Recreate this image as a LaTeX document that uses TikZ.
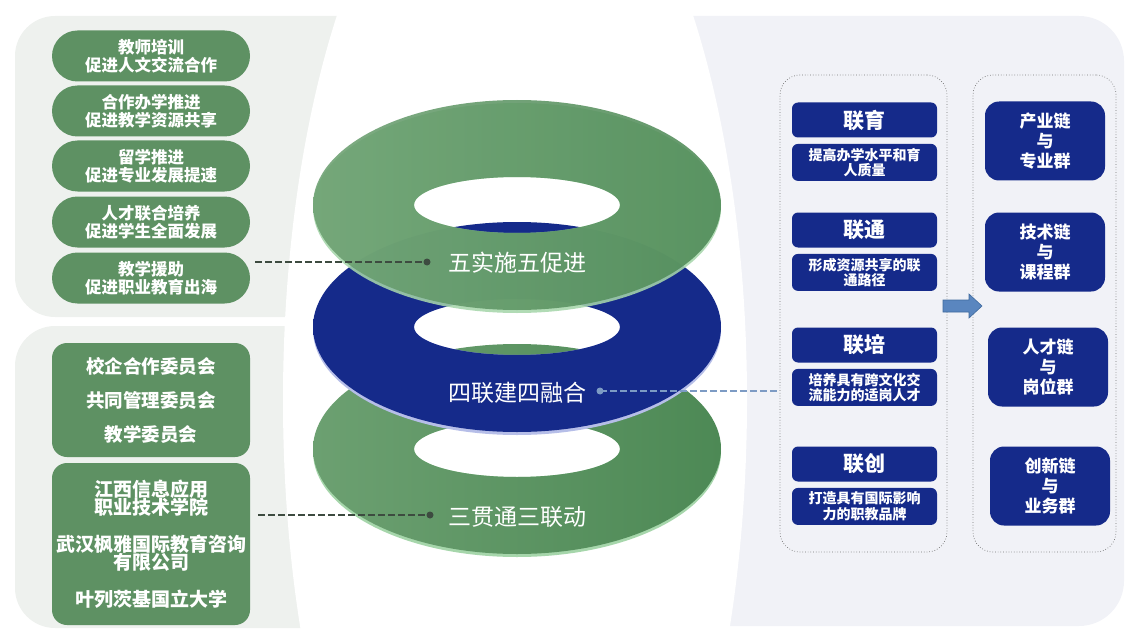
\documentclass[tikz,border=0pt]{standalone}
\usepackage{fontspec}
\setmainfont{Noto Sans CJK SC}
\usetikzlibrary{shapes.misc,positioning,calc}

\definecolor{leafgray}{HTML}{EEF1EE}
\definecolor{mistblue}{HTML}{F1F2F7}
\definecolor{pillgreen}{HTML}{5E9163}
\definecolor{ringlight}{HTML}{6CA071}
\definecolor{ringdark}{HTML}{4D8955}
\definecolor{greenlip}{HTML}{A6D6AB}
\definecolor{navy}{HTML}{152A8A}
\definecolor{bluelip}{HTML}{B6BEE8}
\definecolor{dashdark}{HTML}{3D4B40}
\definecolor{dashblue}{HTML}{7D9BC4}
\definecolor{arrowblue}{HTML}{5A86BF}
\definecolor{arrowedge}{HTML}{3F6A9E}

\newcommand\tightlines{\lineskiplimit-20pt\relax}

\tikzset{
  pill/.style={rounded rectangle, fill=pillgreen, text=white, minimum width=198pt,
    minimum height=51pt, inner sep=0pt, align=center,
    font=\bfseries\fontsize{16.5pt}{18.5pt}\selectfont\tightlines},
  gbox/.style={fill=pillgreen, text=white, rounded corners=15pt, minimum width=198pt,
    inner sep=0pt, align=center},
  ringlabel/.style={text=white, font=\fontsize{23pt}{26pt}\selectfont},
  navytitle/.style={fill=navy, text=white, rounded corners=6pt, minimum width=145pt,
    minimum height=35pt, inner sep=0pt, font=\bfseries\fontsize{21pt}{24pt}\selectfont},
  navydesc/.style={fill=navy, text=white, rounded corners=6pt, minimum width=145pt,
    minimum height=37pt, inner sep=0pt, align=center,
    font=\bfseries\fontsize{14pt}{15.5pt}\selectfont\tightlines},
  chainbox/.style={fill=navy, text=white, rounded corners=14pt, minimum width=120pt,
    minimum height=79pt, inner sep=0pt, align=center,
    font=\bfseries\fontsize{17pt}{20pt}\selectfont\tightlines},
  groupbox/.style={draw=black!55, dotted, line width=0.7pt, rounded corners=20pt},
  darkdash/.style={dashdark, line width=1.6pt, dash pattern=on 7pt off 3pt},
  bluedash/.style={dashblue, line width=1.6pt, dash pattern=on 7pt off 3pt}
}

\begin{document}
\begin{tikzpicture}[x=1pt,y=-1pt]
  \useasboundingbox (0,0) rectangle (1126,631);

  % panels
  \fill[leafgray, rounded corners=40pt] (15,16) rectangle (430,317);
  \fill[leafgray, rounded corners=40pt] (15,326) rectangle (430,628);
  \fill[mistblue, rounded corners=45pt] (600,16) rectangle (1124,626);
  \fill[white] (515,400) ellipse [x radius=232pt, y radius=600pt];

  % five measures
  \foreach \y/\nm/\txt in {56/train/{教师培训\\促进人文交流合作},
      111/coop/{合作办学推进\\促进教学资源共享}, 166/study/{留学推进\\促进专业发展提速},
      222/talent/{人才联合培养\\促进学生全面发展}, 278/aid/{教学援助\\促进职业教育出海}}
    \node[pill] (\nm) at (151,\y) {\txt};

  % committees and partners
  \node[gbox, minimum height=114pt,
        font=\bfseries\fontsize{18.5pt}{34pt}\selectfont] (gov) at (151,400)
       {校企合作委员会\\共同管理委员会\\教学委员会};
  \node[gbox, minimum height=162pt,
        font=\bfseries\fontsize{19pt}{18pt}\selectfont\tightlines] (members) at (151,544)
       {江西信息应用\\职业技术学院\\[19pt]武汉枫雅国际教育咨询\\有限公司\\[19pt]叶列茨基国立大学};

  % rings, bottom to top
  \foreach \cy/\cl/\cr/\lip/\op in {449/ringlight/ringdark/greenlip/1,
      327/navy/navy/bluelip/1, 205/ringlight/ringdark/greenlip/0.87}{
    \fill[\lip, even odd rule, opacity=\op]
      (517,\cy+3) ellipse [x radius=204pt, y radius=105pt]
      (517,\cy) ellipse [x radius=103pt, y radius=28pt];
    \shade[even odd rule, left color=\cl, right color=\cr, opacity=\op]
      (517,\cy) ellipse [x radius=204pt, y radius=105pt]
      (517,\cy) ellipse [x radius=103pt, y radius=28pt];
  }
  \node[ringlabel] (five) at (517,263) {五实施五促进};
  \node[ringlabel] (four) at (517,393) {四联建四融合};
  \node[ringlabel] (three) at (517,517) {三贯通三联动};

  % four links
  \node[groupbox, minimum width=167pt, minimum height=477pt] (linkbox) at (863.5,313.5) {};
  \foreach \y/\nm/\title/\desc in {120/yu/联育/{提高办学水平和育\\人质量},
      230/tong/联通/{形成资源共享的联\\通路径}, 345/pei/联培/{培养具有跨文化交\\流能力的适岗人才},
      464/chuang/联创/{打造具有国际影响\\力的职教品牌}}{
    \node[navytitle] (\nm) at (864.5,\y) {\title};
    \node[navydesc, below=6pt of \nm] (\nm-d) {\desc};
  }

  % four chains
  \node[groupbox, minimum width=143pt, minimum height=477pt] (chainset) at (1044.5,313.5) {};
  \node[chainbox] (industry) at (1045,141) {产业链\\与\\专业群};
  \node[chainbox] (tech) at (1045,252) {技术链\\与\\课程群};
  \node[chainbox] (talentc) at (1048,367) {人才链\\与\\岗位群};
  \node[chainbox] (innov) at (1050,486) {创新链\\与\\业务群};

  % block arrow
  \filldraw[fill=arrowblue, draw=arrowedge, line width=0.6pt]
    (943,300) -- (969,300) -- (969,294) -- (982,306) -- (969,318) -- (969,312) -- (943,312) -- cycle;

  % connectors
  \coordinate (dotA) at (427,262);
  \coordinate (dotB) at (430,515);
  \coordinate (dotC) at (600,391);
  \draw[darkdash] ($(aid.east |- dotA)+(5,0)$) -- (dotA);
  \draw[darkdash] ($(members.east |- dotB)+(8,0)$) -- (dotB);
  \draw[bluedash] (dotC) -- (linkbox.west |- dotC);
  \fill[dashdark] (dotA) circle (3.5pt);
  \fill[dashdark] (dotB) circle (3.5pt);
  \fill[dashblue] (dotC) circle (3.5pt);
\end{tikzpicture}
\end{document}
